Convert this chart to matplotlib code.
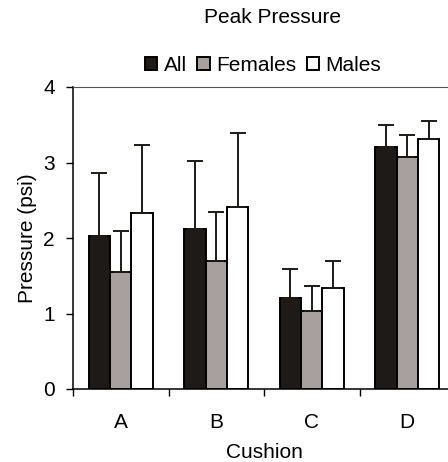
import numpy as np
import matplotlib
matplotlib.use("Agg")
import matplotlib.pyplot as plt

plt.rcParams['font.family'] = ['Liberation Sans', 'DejaVu Sans']

cushions = ["A", "B", "C", "D"]
series = ["All", "Females", "Males"]
all_vals = [2.02, 2.12, 1.21, 3.21]
fem_vals = [1.55, 1.69, 1.03, 3.07]
male_vals = [2.33, 2.41, 1.34, 3.31]
# upper end of the error bars
all_top = [2.86, 3.02, 1.59, 3.50]
fem_top = [2.09, 2.35, 1.37, 3.36]
male_top = [3.23, 3.39, 1.69, 3.55]

colors = ["#1e1a18", "#a8a09e", "#ffffff"]
fs = 15

fig = plt.figure(figsize=(4.48, 4.62), dpi=100)
# axes runs a little past the right edge, like the cropped original
ax = fig.add_axes([73/448, 1 - 389/462, 382/448, 302/462])

x = np.arange(len(cushions))
w = 0.223
vals = [all_vals, fem_vals, male_vals]
tops = [all_top, fem_top, male_top]
for i in range(3):
    v = np.array(vals[i])
    err = np.array(tops[i]) - v
    ax.bar(x + (i - 1) * w, v, w, color=colors[i], edgecolor="black",
           linewidth=1.4, label=series[i],
           yerr=[np.zeros_like(err), err], capsize=6,
           error_kw=dict(ecolor="#1e1a18", elinewidth=1.4, capthick=1.4))

ax.set_xlim(-0.5, 3.5)
ax.set_ylim(0, 4)
ax.set_yticks([0, 1, 2, 3, 4])
ax.set_xticks(x)
ax.set_xticklabels(cushions)
ax.set_xticks(np.arange(-0.5, 3.6, 1), minor=True)
ax.tick_params(axis="x", which="major", length=0, pad=17)
ax.tick_params(axis="x", which="minor", length=5, direction="out", width=1)
ax.tick_params(axis="y", length=5, direction="out", width=1, pad=8)
ax.tick_params(labelsize=fs)

ax.spines["right"].set_visible(False)
ax.spines["top"].set_color("#555555")
ax.spines["left"].set_linewidth(1.1)
ax.spines["bottom"].set_linewidth(1.1)

ax.set_xlabel("Cushion", fontsize=fs, labelpad=8.5)
ax.set_ylabel("Pressure (psi)", fontsize=fs, labelpad=4.5)

fig.text(272/448, 1 - 23/462, "Peak Pressure", ha="center", va="baseline", fontsize=fs)
fig.legend(loc="center", bbox_to_anchor=(263/448, 1 - 65/462), ncol=3,
           frameon=False, fontsize=fs, handlelength=0.6, handleheight=0.6,
           handletextpad=0.3, columnspacing=0.5, borderpad=0)

fig.savefig("out.png", dpi=100)
